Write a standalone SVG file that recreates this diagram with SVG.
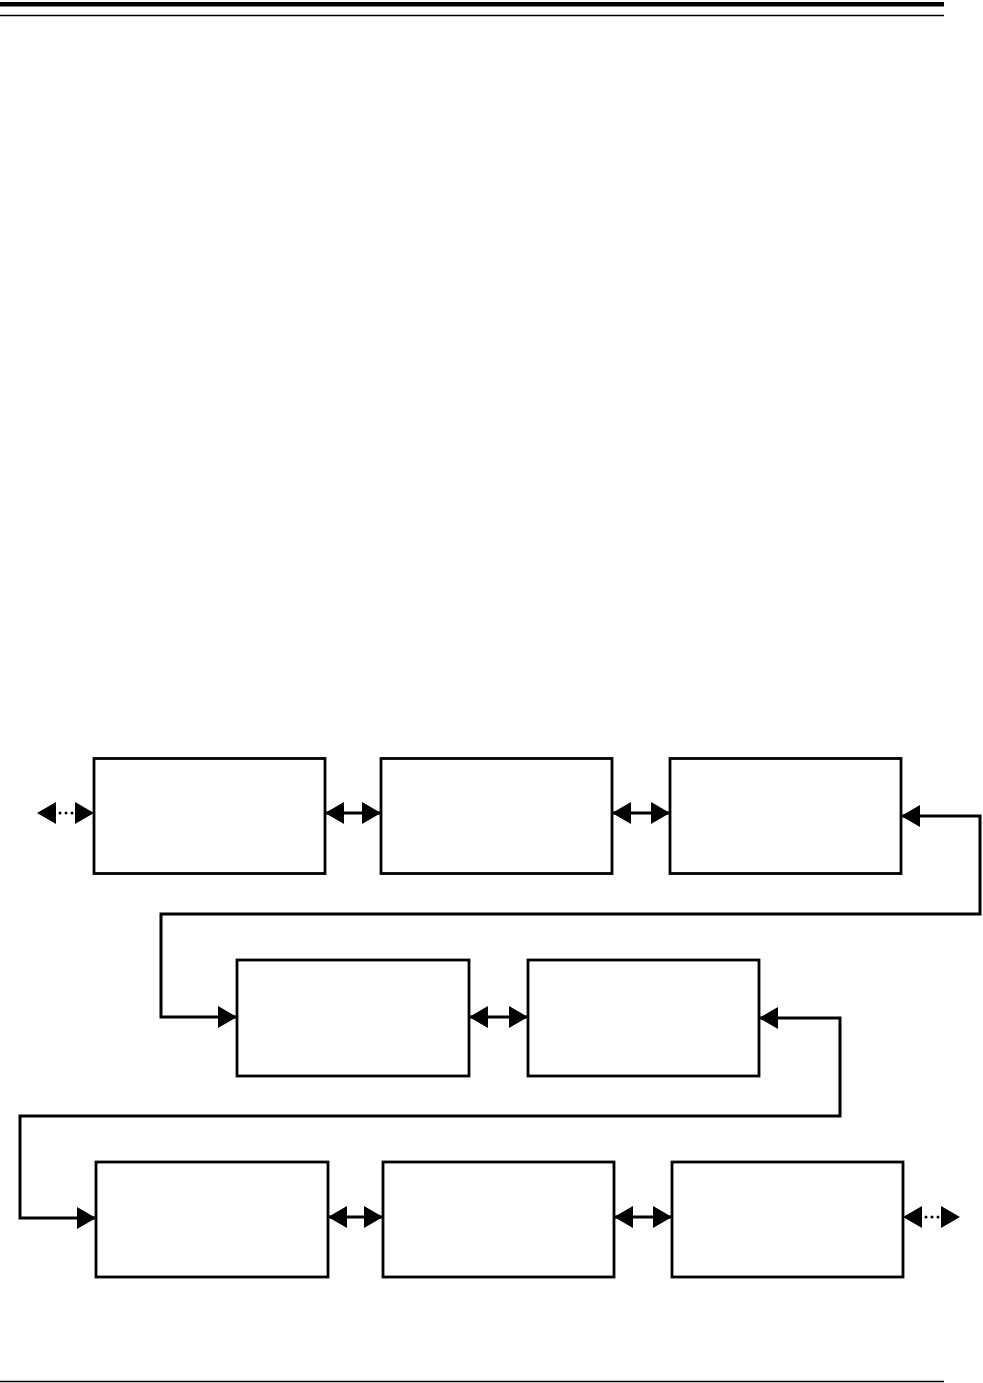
<svg xmlns="http://www.w3.org/2000/svg" width="983" height="1383" viewBox="0 0 983 1383">
  <style>
    .box { fill: #ffffff; stroke: #000000; stroke-width: 2.8; }
    .conn { fill: none; stroke: #000000; stroke-width: 3; }
    .heads { fill: none; stroke: none; }
    .dot { fill: none; stroke: #000000; stroke-width: 3; stroke-linecap: round; stroke-dasharray: 0 6; }
    .rule { stroke: #000000; }
  </style>
  <defs>
    <marker id="ah" viewBox="0 0 19 22" refX="19" refY="11" markerWidth="19" markerHeight="22" markerUnits="userSpaceOnUse" orient="auto-start-reverse">
      <path d="M0,0 L19,11 L0,22 Z" fill="#000000"/>
    </marker>
  </defs>
  <rect width="983" height="1383" fill="#ffffff"/>
  <g id="page-rules">
    <rect x="0" y="2" width="944" height="4.5" fill="#000000"/>
    <line class="rule" x1="0" y1="15.5" x2="944" y2="15.5" stroke-width="1.5"/>
    <line class="rule" x1="0" y1="1381.5" x2="944" y2="1381.5" stroke-width="1.5"/>
  </g>
  <g id="connectors">
    <line class="dot" x1="60" y1="813" x2="73" y2="813"/>
    <path class="heads" d="M37,813 L94,813" marker-start="url(#ah)" marker-end="url(#ah)"/>
    <line class="conn" x1="325" y1="813" x2="381" y2="813" marker-start="url(#ah)" marker-end="url(#ah)"/>
    <line class="conn" x1="612" y1="813" x2="670" y2="813" marker-start="url(#ah)" marker-end="url(#ah)"/>
    <polyline class="conn" points="901,816 980,816 980,914 161,914 161,1017 237,1017" marker-start="url(#ah)" marker-end="url(#ah)"/>
    <line class="conn" x1="469" y1="1017" x2="528" y2="1017" marker-start="url(#ah)" marker-end="url(#ah)"/>
    <polyline class="conn" points="759,1018 840,1018 840,1116 20,1116 20,1218 96,1218" marker-start="url(#ah)" marker-end="url(#ah)"/>
    <line class="conn" x1="328" y1="1217" x2="383" y2="1217" marker-start="url(#ah)" marker-end="url(#ah)"/>
    <line class="conn" x1="614" y1="1217" x2="672" y2="1217" marker-start="url(#ah)" marker-end="url(#ah)"/>
    <line class="dot" x1="926" y1="1217" x2="939" y2="1217"/>
    <path class="heads" d="M903,1217 L960,1217" marker-start="url(#ah)" marker-end="url(#ah)"/>
  </g>
  <g id="node1"><rect class="box" x="94" y="758.5" width="231" height="115"/></g>
  <g id="node2"><rect class="box" x="381" y="758.5" width="231" height="115"/></g>
  <g id="node3"><rect class="box" x="670" y="758.5" width="231" height="115"/></g>
  <g id="node4"><rect class="box" x="237" y="960" width="232" height="116"/></g>
  <g id="node5"><rect class="box" x="528" y="960" width="231" height="116"/></g>
  <g id="node6"><rect class="box" x="96" y="1162" width="232" height="115"/></g>
  <g id="node7"><rect class="box" x="383" y="1162" width="231" height="115"/></g>
  <g id="node8"><rect class="box" x="672" y="1162" width="231" height="115"/></g>
</svg>
